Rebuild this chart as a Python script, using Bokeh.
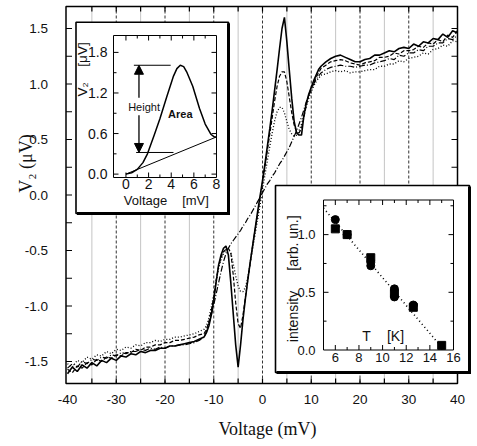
import math
from bokeh.plotting import figure
from bokeh.models import Range1d, Arrow, NormalHead
from bokeh.core.properties import value
from bokeh.embed import file_html
from bokeh.resources import INLINE

# ---------------- main traces: V2 versus bias voltage ----------------
volt = [-40, -39, -38, -37, -36, -35, -34, -33, -32, -31, -30, -29, -28, -27, -26,
        -25, -24, -23, -22, -21, -20, -19, -18, -17, -16, -15, -14, -13, -12,
        -11.5, -11, -10.5, -10, -9.5, -9, -8.5, -8, -7.5, -7,
        -6.5, -6, -5.5, -5, -4.5, -4, -3.5, -3, -2.5, -2,
        -1.5, -1, -0.5, 0, 0.5, 1, 1.5, 2, 2.5, 3,
        3.5, 4, 4.5, 5, 5.5, 6, 6.5, 7, 7.5, 8,
        8.5, 9, 9.5, 10, 10.5, 11, 11.5,
        12, 13, 14, 15, 16, 17, 18, 19, 20, 21, 22, 23, 24, 25, 26,
        27, 28, 29, 30, 31, 32, 33, 34, 35, 36, 37, 38, 39, 40]

v2_solid = [-1.61, -1.55, -1.59, -1.53, -1.56, -1.51, -1.54, -1.49, -1.51, -1.47,
            -1.49, -1.45, -1.46, -1.43, -1.44, -1.41, -1.42, -1.40, -1.40, -1.38,
            -1.38, -1.36, -1.36, -1.35, -1.34, -1.33, -1.32, -1.30, -1.28,
            -1.24, -1.18, -1.08, -0.95, -0.78, -0.63, -0.54, -0.48, -0.46, -0.54,
            -0.79, -1.07, -1.35, -1.55, -1.35, -1.12, -0.93, -0.76, -0.60, -0.45,
            -0.30, -0.15, -0.01, 0.13, 0.28, 0.44, 0.60, 0.77, 0.95, 1.13,
            1.32, 1.50, 1.60, 1.38, 1.12, 0.87, 0.66, 0.56, 0.54, 0.54,
            0.72, 0.83, 0.91, 0.97, 1.03, 1.08, 1.13,
            1.16, 1.20, 1.23, 1.25, 1.26, 1.24, 1.22, 1.20, 1.20, 1.22,
            1.23, 1.26, 1.26, 1.28, 1.30, 1.29, 1.32, 1.33, 1.32, 1.36,
            1.34, 1.38, 1.37, 1.41, 1.40, 1.45, 1.42, 1.48, 1.46]

v2_dashed = [-1.57, -1.60, -1.54, -1.56, -1.51, -1.53, -1.48, -1.50, -1.46, -1.47,
             -1.44, -1.45, -1.42, -1.42, -1.39, -1.40, -1.37, -1.37, -1.35, -1.35,
             -1.33, -1.33, -1.31, -1.31, -1.30, -1.29, -1.28, -1.26, -1.25,
             -1.21, -1.14, -1.04, -0.92, -0.77, -0.64, -0.56, -0.51, -0.49, -0.48,
             -0.52, -0.72, -0.97, -1.16, -1.20, -1.08, -0.92, -0.76, -0.60, -0.45,
             -0.31, -0.17, -0.03, 0.11, 0.25, 0.40, 0.55, 0.70, 0.85, 0.98,
             1.07, 1.11, 1.11, 1.02, 0.88, 0.74, 0.63, 0.57, 0.56, 0.60,
             0.70, 0.81, 0.90, 0.96, 1.01, 1.06, 1.10,
             1.14, 1.17, 1.20, 1.21, 1.22, 1.21, 1.19, 1.18, 1.17, 1.19,
             1.20, 1.21, 1.24, 1.24, 1.25, 1.28, 1.27, 1.30, 1.30, 1.31,
             1.34, 1.33, 1.37, 1.36, 1.40, 1.38, 1.44, 1.42, 1.48]

v2_dotted = [-1.52, -1.55, -1.49, -1.51, -1.46, -1.48, -1.44, -1.45, -1.41, -1.43,
             -1.39, -1.40, -1.37, -1.38, -1.35, -1.36, -1.33, -1.33, -1.31, -1.32,
             -1.30, -1.30, -1.28, -1.28, -1.27, -1.26, -1.25, -1.23, -1.21,
             -1.18, -1.11, -1.01, -0.90, -0.77, -0.66, -0.58, -0.53, -0.50, -0.49,
             -0.52, -0.62, -0.73, -0.82, -0.87, -0.87, -0.83, -0.74, -0.61, -0.48,
             -0.35, -0.22, -0.09, 0.05, 0.18, 0.31, 0.44, 0.56, 0.67, 0.75,
             0.79, 0.79, 0.74, 0.66, 0.59, 0.55, 0.53, 0.54, 0.58, 0.64,
             0.72, 0.80, 0.87, 0.93, 0.98, 1.02, 1.05,
             1.08, 1.09, 1.11, 1.12, 1.11, 1.12, 1.10, 1.11, 1.11, 1.12,
             1.13, 1.13, 1.16, 1.16, 1.18, 1.18, 1.21, 1.20, 1.23, 1.24,
             1.25, 1.28, 1.27, 1.31, 1.32, 1.35, 1.34, 1.39, 1.38]

v2_dashdot = [-1.56, -1.52, -1.55, -1.50, -1.52, -1.48, -1.49, -1.46, -1.47, -1.44,
              -1.45, -1.42, -1.43, -1.41, -1.41, -1.39, -1.40, -1.38, -1.39, -1.37,
              -1.38, -1.36, -1.36, -1.35, -1.35, -1.34, -1.33, -1.31, -1.28,
              -1.23, -1.16, -1.08, -0.99, -0.89, -0.79, -0.69, -0.60, -0.53, -0.48,
              -0.44, -0.41, -0.38, -0.35, -0.32, -0.28, -0.25, -0.21, -0.18, -0.14,
              -0.10, -0.06, -0.02, 0.02, 0.06, 0.10, 0.13, 0.17, 0.20, 0.24,
              0.28, 0.31, 0.35, 0.39, 0.43, 0.48, 0.53, 0.58, 0.64, 0.70,
              0.77, 0.84, 0.90, 0.95, 1.00, 1.04, 1.07,
              1.10, 1.13, 1.15, 1.16, 1.17, 1.16, 1.16, 1.15, 1.16, 1.17,
              1.17, 1.19, 1.20, 1.21, 1.23, 1.22, 1.26, 1.25, 1.28, 1.28,
              1.31, 1.30, 1.34, 1.34, 1.37, 1.37, 1.41, 1.40, 1.44]

main_x_ticks = [-40, -30, -20, -10, 0, 10, 20, 30, 40]
main_x_minor = [-35, -25, -15, -5, 5, 15, 25, 35]
main_y_ticks = [-1.5, -1.0, -0.5, 0.0, 0.5, 1.0, 1.5]
main_y_minor = [-1.25, -0.75, -0.25, 0.25, 0.75, 1.25]
grid_dashed = [-30, -20, -10, 0, 10, 20, 30]
grid_dotted = [-35, -25, -15, -5, 5, 15, 25, 35]

# ---------------- inset: single peak over its linear background ----------------
peak_v = [0, 0.5, 1.0, 1.5, 1.9, 2.5, 3.0, 3.6, 4.2, 4.5, 4.8, 5.1, 5.4, 5.9, 6.5, 7.0, 7.5, 7.8, 8.0]
peak_v2 = [0.0, 0.02, 0.07, 0.17, 0.30, 0.58, 0.82, 1.14, 1.45, 1.56, 1.61, 1.59, 1.50, 1.30,
           0.97, 0.74, 0.59, 0.55, 0.55]
bg_v = [0.0, 8.0]
bg_v2 = [0.0, 0.55]
height_low = 0.32
in1_x_ticks = [0, 2, 4, 6, 8]
in1_x_minor = [1, 3, 5, 7]
in1_y_ticks = [0.0, 0.6, 1.2, 1.8]
in1_y_minor = [0.3, 0.9, 1.5]

# ---------------- inset: peak intensity versus temperature ----------------
t_square = [6, 7, 9, 11, 12.6, 15]
i_square = [1.05, 1.00, 0.80, 0.49, 0.37, 0.04]
t_circle = [6, 7, 9, 9, 11, 11, 12.6]
i_circle = [1.13, 1.00, 0.76, 0.73, 0.53, 0.46, 0.39]
fit_t = [5.0, 15.2]
fit_i = [1.23, 0.0]
in2_x_ticks = [6, 8, 10, 12, 14, 16]
in2_x_minor = [5, 7, 9, 11, 13, 15]
in2_y_ticks = [0.0, 0.5, 1.0]
in2_y_minor = [0.25, 0.75, 1.25]

# ---------------- geometry ----------------
W, H = 477, 446
FL, FR, FT, FB = 0, W, 0, H          # the frame spans the whole canvas
SANS = "Liberation Sans"
SERIF = "Liberation Serif"
INK = "#111111"


def lin_range(v_lo, v_hi, p_lo, p_hi, f_lo, f_hi):
    """Range placing v_lo/v_hi at pixels p_lo/p_hi of a frame spanning f_lo..f_hi."""
    k = (v_hi - v_lo) / (p_hi - p_lo)
    return Range1d(start=v_lo - (p_lo - f_lo) * k, end=v_hi + (f_hi - p_hi) * k)


def xrange_px(v_lo, v_hi, p_lo, p_hi):
    return lin_range(v_lo, v_hi, p_lo, p_hi, FL, FR)


def yrange_px(v_lo, v_hi, p_bottom, p_top):
    return lin_range(v_lo, v_hi, -p_bottom, -p_top, -FB, -FT)


def to_x(rng, px):
    return rng.start + (px - FL) * (rng.end - rng.start) / (FR - FL)


def to_y(rng, py):
    return rng.end - (py - FT) * (rng.end - rng.start) / (FB - FT)


def px_w(rng, n):
    return n * (rng.end - rng.start) / (FR - FL)


def px_h(rng, n):
    return n * (rng.end - rng.start) / (FB - FT)


xr = xrange_px(-40, 40, 67, 457)
yr = yrange_px(-1.5, 1.5, 361, 28)
i1x = xrange_px(-1.1, 8.0, 113, 216)
i1y = yrange_px(-0.05, 2.05, 177, 35)
i2x = xrange_px(5.0, 16.0, 323, 453)
i2y = yrange_px(0.0, 1.3, 349.5, 199.5)

p = figure(width=W, height=H, x_range=xr, y_range=yr, title=None,
           x_axis_location=None, y_axis_location=None,
           output_backend="svg", toolbar_location=None,
           min_border_left=0, min_border_right=0, min_border_top=0, min_border_bottom=0)
p.extra_x_ranges = {"i1x": i1x, "i2x": i2x}
p.extra_y_ranges = {"i1y": i1y, "i2y": i2y}
p.outline_line_color = None
p.grid.visible = False
p.background_fill_color = "white"
p.border_fill_color = "white"


def txt(xn, yn, xs, ys, texts, size, align="center", baseline="middle", angle=0.0,
        style="normal", font=SANS):
    p.text(x=xs, y=ys, text=texts, x_range_name=xn, y_range_name=yn,
           text_font=value(font), text_font_size=value(size), text_align=align,
           text_baseline=baseline, angle=angle, text_font_style=style, text_color=INK)


# main box edges
bl, br = to_x(xr, 65.5), to_x(xr, 457)
bt, bb = to_y(yr, 6), to_y(yr, 383)

# vertical guide lines
n = len(grid_dashed)
p.segment(x0=grid_dashed, x1=grid_dashed, y0=[bb] * n, y1=[bt] * n,
          line_color="#333333", line_width=1, line_dash="3 2")
n = len(grid_dotted)
p.segment(x0=grid_dotted, x1=grid_dotted, y0=[bb] * n, y1=[bt] * n,
          line_color="#888888", line_width=1, line_dash="1 1")

# traces
p.line(volt, v2_dashdot, line_color="black", line_width=1.2, line_dash="6 2 1 2")
p.line(volt, v2_dotted, line_color="black", line_width=1.3, line_dash="1 2")
p.line(volt, v2_dashed, line_color="black", line_width=1.2, line_dash="4 2")
p.line(volt, v2_solid, line_color="black", line_width=1.6)

# main frame, inward ticks, tick labels and axis titles
p.quad(left=[bl], right=[br], top=[bt], bottom=[bb], fill_color=None,
       line_color="black", line_width=1.5)
xt = [t for t in main_x_ticks + main_x_minor if -40 < t < 40]
th = px_h(yr, 5)
p.segment(x0=xt, x1=xt, y0=[bb] * len(xt), y1=[bb + th] * len(xt), line_color="black", line_width=1.2)
p.segment(x0=xt, x1=xt, y0=[bt] * len(xt), y1=[bt - th] * len(xt), line_color="black", line_width=1.2)
yt = main_y_ticks + main_y_minor
tw = px_w(xr, 6)
p.segment(x0=[bl] * len(yt), x1=[bl + tw] * len(yt), y0=yt, y1=yt, line_color="black", line_width=1.2)
p.segment(x0=[br] * len(yt), x1=[br - tw] * len(yt), y0=yt, y1=yt, line_color="black", line_width=1.2)

txt("default", "default", main_x_ticks, [to_y(yr, 398.5)] * len(main_x_ticks),
    [str(t) for t in main_x_ticks], "13.5px")
txt("default", "default", [to_x(xr, 47.5)] * len(main_y_ticks), main_y_ticks,
    [f"{t:.1f}" for t in main_y_ticks], "13.5px", align="right")
txt("default", "default", [to_x(xr, 267)], [to_y(yr, 428)], ["Voltage (mV)"], "18px",
    baseline="alphabetic", font=SERIF)
txt("default", "default", [to_x(xr, 25)], [to_y(yr, 163)], ["V₂ (μV)"], "18px",
    angle=math.pi / 2, font=SERIF)


def inset_box(l, t, r, b):
    p.quad(left=[to_x(xr, l)], right=[to_x(xr, r)], top=[to_y(yr, t)], bottom=[to_y(yr, b)],
           fill_color="white", line_color="black", line_width=1.6)
    p.segment(x0=[to_x(xr, r)], x1=[to_x(xr, r)], y0=[to_y(yr, t + 1)], y1=[to_y(yr, b + 1.5)],
              line_color="black", line_width=3)
    p.segment(x0=[to_x(xr, l + 1)], x1=[to_x(xr, r + 1.5)], y0=[to_y(yr, b)], y1=[to_y(yr, b)],
              line_color="black", line_width=3)


def inset_axes(xn, yn, xrng, yrng, x0, x1, y0, y1, xmaj, xmin, ymaj, ymin):
    kw = dict(x_range_name=xn, y_range_name=yn, line_color="black", line_width=1)
    p.quad(left=[x0], right=[x1], bottom=[y0], top=[y1], fill_color=None, **kw)
    for ticks, n_px in ((xmaj, 5), (xmin, 3)):
        ts = [t for t in ticks if x0 < t < x1]
        h = px_h(yrng, n_px)
        p.segment(x0=ts, x1=ts, y0=[y0] * len(ts), y1=[y0 + h] * len(ts), **kw)
        p.segment(x0=ts, x1=ts, y0=[y1] * len(ts), y1=[y1 - h] * len(ts), **kw)
    for ticks, n_px in ((ymaj, 5), (ymin, 3)):
        ts = [t for t in ticks if y0 < t < y1]
        w = px_w(xrng, n_px)
        p.segment(x0=[x0] * len(ts), x1=[x0 + w] * len(ts), y0=ts, y1=ts, **kw)
        p.segment(x0=[x1] * len(ts), x1=[x1 - w] * len(ts), y0=ts, y1=ts, **kw)


# ---- inset 1: peak height and area ----
inset_box(75.5, 21.7, 228, 213)
inset_axes("i1x", "i1y", i1x, i1y, -1.1, 8.0, -0.05, 2.05,
           in1_x_ticks, in1_x_minor, in1_y_ticks, in1_y_minor)
k1 = dict(x_range_name="i1x", y_range_name="i1y")
p.line(bg_v, bg_v2, line_color="black", line_width=1.0, **k1)
p.line(peak_v, peak_v2, line_color="black", line_width=1.5, **k1)
peak_top = max(peak_v2)
p.segment(x0=[0.7, 0.9], x1=[3.95, 4.2], y0=[peak_top, height_low], y1=[peak_top, height_low],
          line_color="black", line_width=1.0, **k1)
for y_a, y_b in ((1.13, peak_top), (0.87, height_low)):
    p.add_layout(Arrow(x_start=1.15, y_start=y_a, x_end=1.15, y_end=y_b, start=None,
                       end=NormalHead(size=9, fill_color="black", line_color="black"),
                       line_color="black", line_width=1.3, **k1))
txt("i1x", "i1y", [1.6], [1.0], ["Height"], "11px")
txt("i1x", "i1y", [4.8], [0.89], ["Area"], "11px", style="bold")
txt("i1x", "i1y", in1_x_ticks, [to_y(i1y, 178.5)] * len(in1_x_ticks),
    [str(t) for t in in1_x_ticks], "14px", baseline="top")
txt("i1x", "i1y", [to_x(i1x, 107)] * len(in1_y_ticks), in1_y_ticks,
    [f"{t:.1f}" for t in in1_y_ticks], "14px", align="right")
txt("i1x", "i1y", [to_x(i1x, 145), to_x(i1x, 195)], [to_y(i1y, 200)] * 2,
    ["Voltage", "[mV]"], "13px")
txt("i1x", "i1y", [to_x(i1x, 82)] * 2, [to_y(i1y, 89), to_y(i1y, 54)],
    ["V₂", "[μV]"], "13.5px", angle=math.pi / 2)

# ---- inset 2: intensity versus temperature ----
inset_box(275, 185, 469, 372)
inset_axes("i2x", "i2y", i2x, i2y, 5.0, 16.0, 0.0, 1.3,
           in2_x_ticks, in2_x_minor, in2_y_ticks, in2_y_minor)
k2 = dict(x_range_name="i2x", y_range_name="i2y")
p.line(fit_t, fit_i, line_color="black", line_width=1.6, line_dash="1 3", **k2)
p.scatter(t_square, i_square, marker="square", size=8, fill_color="black", line_color="black", **k2)
p.scatter(t_circle, i_circle, marker="circle", size=8, fill_color="black", line_color="black", **k2)
txt("i2x", "i2y", in2_x_ticks, [to_y(i2y, 352)] * len(in2_x_ticks),
    [str(t) for t in in2_x_ticks], "13px", baseline="top")
txt("i2x", "i2y", [to_x(i2x, 315)] * len(in2_y_ticks), in2_y_ticks,
    [f"{t:.1f}" for t in in2_y_ticks], "13px", align="right")
txt("i2x", "i2y", [to_x(i2x, 292.5)] * 2, [to_y(i2y, 316), to_y(i2y, 242.5)],
    ["intensity", "[arb. un.]"], "14px", angle=math.pi / 2)
txt("i2x", "i2y", [to_x(i2x, 366), to_x(i2x, 395)], [to_y(i2y, 335)] * 2,
    ["T", "[K]"], "14px")

open("out.html", "w").write(file_html(p, INLINE))
